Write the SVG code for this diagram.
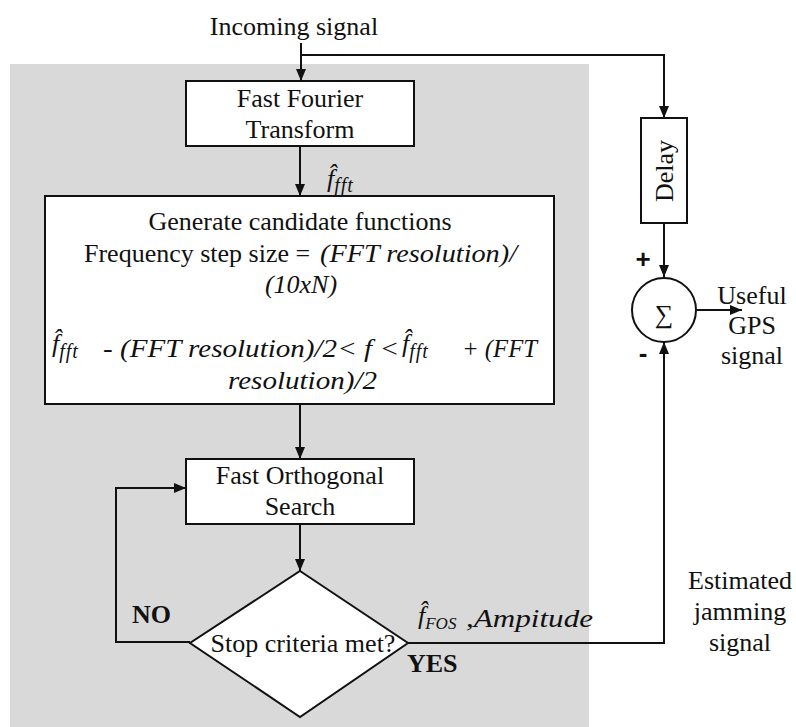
<svg xmlns="http://www.w3.org/2000/svg" width="796" height="727" viewBox="0 0 796 727">
<style>
  text { font-family: 'Liberation Serif', 'Times New Roman', 'DejaVu Serif', serif; font-size: 26px; fill: #111; }
  .c { text-anchor: middle; }
  .i { font-style: italic; }
  .b { font-weight: bold; }
  .box { fill: #fff; stroke: #111; stroke-width: 2; }
  .ln { fill: none; stroke: #111; stroke-width: 2; }
  text.sg { font-family: 'Liberation Sans', Arial, sans-serif; font-weight: bold; font-size: 26px; }
</style>
<defs>
  <marker id="ah" markerWidth="12" markerHeight="10" refX="12" refY="5" orient="auto" markerUnits="userSpaceOnUse">
    <path d="M0,0 L12,5 L0,10 z" fill="#111"/>
  </marker>
</defs>
<rect width="796" height="727" fill="#fff"/>
<rect x="10" y="64" width="579" height="663" fill="#d9d9d9"/>

<g id="incoming">
  <text class="c" x="294" y="35">Incoming signal</text>
</g>

<g id="connectors">
  <path class="ln" d="M301,43 V81" marker-end="url(#ah)"/>
  <path class="ln" d="M301,55 H664 V118" marker-end="url(#ah)"/>
  <path class="ln" d="M300,146 V196" marker-end="url(#ah)"/>
  <path class="ln" d="M300,404 V459" marker-end="url(#ah)"/>
  <path class="ln" d="M300,524 V571" marker-end="url(#ah)"/>
  <path class="ln" d="M190,642 H116 V488 H186" marker-end="url(#ah)"/>
  <path class="ln" d="M664,223 V277" marker-end="url(#ah)"/>
  <path class="ln" d="M408,643 H664 V342" marker-end="url(#ah)"/>
  <path class="ln" d="M697,310 H742" marker-end="url(#ah)"/>
</g>

<g id="fft">
  <rect class="box" x="186" y="81" width="228" height="65"/>
  <text class="c" x="300" y="107">Fast Fourier</text>
  <text class="c" x="300" y="138">Transform</text>
</g>

<g id="fft-label">
  <text class="i" x="327" y="187">f&#x302;<tspan font-size="20" dy="5" letter-spacing="1">fft</tspan></text>
</g>

<g id="generate">
  <rect class="box" x="45" y="196" width="509" height="208"/>
  <text class="c" x="300" y="230">Generate candidate functions</text>
  <text x="84" y="262">Frequency step size = </text>
  <text class="i" x="320" y="262" textLength="197" lengthAdjust="spacingAndGlyphs">(FFT resolution)/</text>
  <text class="i c" x="301" y="293">(10xN)</text>
  <text class="i" x="52" y="352">f&#x302;<tspan font-size="20" dy="6" letter-spacing="1">fft</tspan></text>
  <text class="i" x="103" y="357" textLength="296" lengthAdjust="spacingAndGlyphs">- (FFT resolution)/2&lt; f &lt;</text>
  <text class="i" x="402" y="352">f&#x302;<tspan font-size="20" dy="6" letter-spacing="1">fft</tspan></text>
  <text class="i" x="462" y="357" textLength="75" lengthAdjust="spacingAndGlyphs">+ (FFT</text>
  <text class="i" x="228" y="389" textLength="149" lengthAdjust="spacingAndGlyphs">resolution)/2</text>
</g>

<g id="fos">
  <rect class="box" x="186" y="459" width="228" height="65"/>
  <text class="c" x="300" y="484">Fast Orthogonal</text>
  <text class="c" x="300" y="515">Search</text>
</g>

<g id="decision">
  <polygon class="box" points="300,571 408,643 300,717 190,643"/>
  <text class="c" x="303" y="652">Stop criteria met?</text>
  <text class="b" x="132" y="623">NO</text>
  <text class="b" x="407" y="672">YES</text>
</g>

<g id="fos-label">
  <text class="i" x="418" y="624">f&#x302;<tspan font-size="17" dy="5">FOS</tspan></text>
  <text class="i" x="466" y="627" textLength="127" lengthAdjust="spacingAndGlyphs">,Ampitude</text>
</g>

<g id="delay">
  <rect class="box" x="641" y="118" width="46" height="105"/>
  <text class="c" transform="translate(673,171) rotate(-90)">Delay</text>
</g>

<g id="sum">
  <circle class="box" cx="664" cy="310" r="32"/>
  <text class="c" x="664" y="323" font-size="36">&#x2211;</text>
  <text class="sg c" x="643" y="268">+</text>
  <text class="sg c" x="643" y="362">-</text>
</g>

<g id="output">
  <text class="c" x="752" y="304">Useful</text>
  <text class="c" x="752" y="334">GPS</text>
  <text class="c" x="752" y="364">signal</text>
</g>

<g id="jamming">
  <text class="c" x="740" y="589">Estimated</text>
  <text class="c" x="740" y="620">jamming</text>
  <text class="c" x="740" y="651">signal</text>
</g>
</svg>
